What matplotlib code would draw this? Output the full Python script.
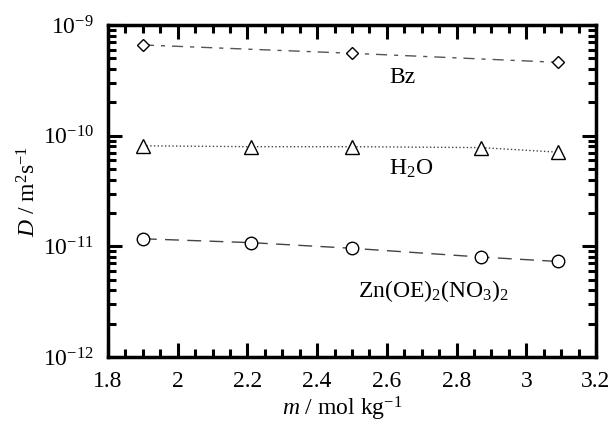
import matplotlib
matplotlib.use('Agg')
import matplotlib.pyplot as plt
from matplotlib.ticker import MultipleLocator, LogLocator, LogFormatterMathtext, NullFormatter

plt.rcParams['font.family'] = 'Liberation Serif'
plt.rcParams['mathtext.fontset'] = 'custom'
plt.rcParams['mathtext.rm'] = 'Liberation Serif'
plt.rcParams['mathtext.it'] = 'Liberation Serif:italic'

# data
m_bz = [1.90, 2.50, 3.09]
d_bz = [6.6e-10, 5.55e-10, 4.6e-10]

m_h2o = [1.90, 2.21, 2.50, 2.87, 3.09]
d_h2o = [8.1e-11, 7.95e-11, 7.95e-11, 7.8e-11, 7.1e-11]

m_zn = [1.90, 2.21, 2.50, 2.87, 3.09]
d_zn = [1.17e-11, 1.08e-11, 9.6e-12, 8.0e-12, 7.3e-12]

fig = plt.figure(figsize=(6.15, 4.23), dpi=100)
ax = fig.add_axes([108/615, 1-357/423, 488/615, 332/423])

ax.plot(m_bz, d_bz, color='#555555', lw=1, dashes=(8, 5, 3, 5),
        marker='D', ms=6.5, mfc='white', mec='black', mew=1)
ax.plot(m_h2o, d_h2o, color='#444444', lw=1, ls=':',
        marker='^', ms=9.5, mfc='white', mec='black', mew=1)
ax.plot(m_zn, d_zn, color='#444444', lw=1, dashes=(10, 6),
        marker='o', ms=9, mfc='white', mec='black', mew=1)

ax.set_yscale('log')
ax.set_xlim(1.8, 3.2)
ax.set_ylim(1e-12, 1e-9)

ax.xaxis.set_major_locator(MultipleLocator(0.2))
ax.xaxis.set_minor_locator(MultipleLocator(0.05))
ax.yaxis.set_major_locator(LogLocator(base=10))
ax.yaxis.set_minor_locator(LogLocator(base=10, subs=range(2, 10)))
ax.yaxis.set_major_formatter(LogFormatterMathtext())
ax.yaxis.set_minor_formatter(NullFormatter())
ax.xaxis.set_major_formatter(plt.FuncFormatter(lambda v, p: ('%g' % round(v, 2))))

for s in ax.spines.values():
    s.set_linewidth(2.5)
ax.tick_params(which='both', direction='in', top=True, right=True, width=2.2)
ax.tick_params(which='major', length=10, labelsize=17)
ax.tick_params(axis='x', which='major', pad=10)
ax.tick_params(axis='y', which='major', pad=10)
ax.tick_params(which='minor', length=6)

ax.set_xlabel('$m$ / mol kg$^{-1}$', fontsize=17, labelpad=0)
ax.xaxis.set_label_coords(0.48, -0.115)
ax.set_ylabel('$D$ / m$^2$s$^{-1}$', fontsize=17, labelpad=2)

ax.text(2.645, 2.97e-10, 'Bz', fontsize=17, ha='center', va='baseline')
ax.text(2.67, 4.4e-11, 'H$_2$O', fontsize=17, ha='center', va='baseline')
ax.text(2.735, 3.5e-12, 'Zn(OE)$_2$(NO$_3$)$_2$', fontsize=17, ha='center', va='baseline')

fig.savefig('out.png', dpi=100)
